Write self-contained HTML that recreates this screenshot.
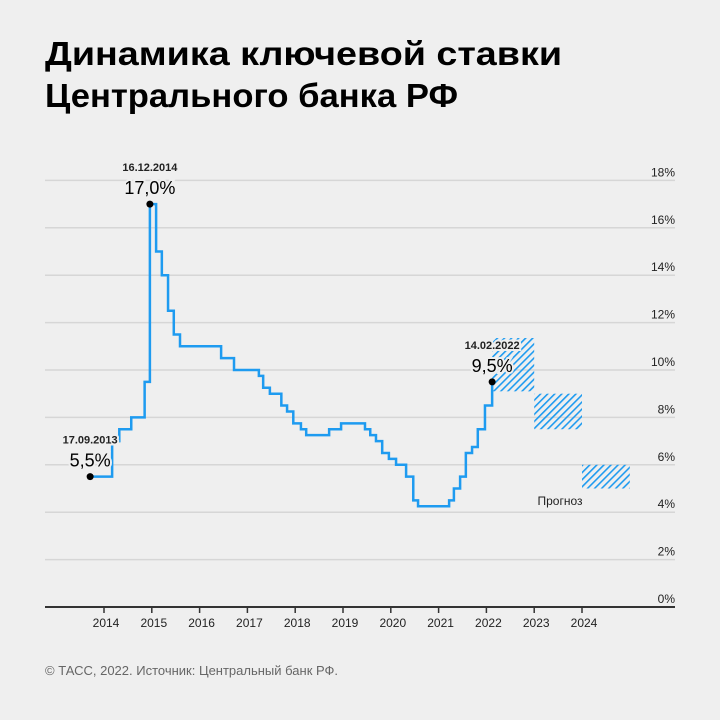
<!DOCTYPE html>
<html><head><meta charset="utf-8"><style>
body{margin:0;background:#efefef;}
svg{display:block;font-family:"Liberation Sans","DejaVu Sans",sans-serif;}
</style></head><body>
<svg width="720" height="720" viewBox="0 0 720 720">
<defs>
<pattern id="hatch" patternUnits="userSpaceOnUse" width="5" height="5" patternTransform="rotate(45)">
<rect x="0" y="0" width="1.6" height="5" fill="#1e9bf0"/>
</pattern>
</defs>
<rect width="720" height="720" fill="#efefef"/>
<text x="45" y="65" font-size="33" font-weight="bold" fill="#000" textLength="517" lengthAdjust="spacingAndGlyphs">Динамика ключевой ставки</text>
<text x="45" y="107" font-size="33" font-weight="bold" fill="#000" textLength="413" lengthAdjust="spacingAndGlyphs">Центрального банка РФ</text>
<g id="grid"></g>
<g id="forecast"></g>
<g id="series"></g>
<g id="xaxis"></g>
<g id="annot"></g>
<text x="45" y="675" font-size="13" fill="#666">© ТАСС, 2022. Источник: Центральный банк РФ.</text>
</svg>
<script>
const yTicks=[0,2,4,6,8,10,12,14,16,18];
const xYears=[2014,2015,2016,2017,2018,2019,2020,2021,2022,2023,2024];
const rateDates=[2013.71,2014.17,2014.32,2014.57,2014.85,2014.96,2015.09,2015.21,2015.34,2015.46,2015.59,2016.45,2016.72,2017.24,2017.33,2017.47,2017.71,2017.83,2017.96,2018.12,2018.23,2018.71,2018.96,2019.46,2019.57,2019.69,2019.82,2019.96,2020.11,2020.32,2020.47,2020.57,2021.22,2021.32,2021.45,2021.57,2021.70,2021.82,2021.97,2022.12];
const rateValues=[5.5,7.0,7.5,8.0,9.5,17.0,15.0,14.0,12.5,11.5,11.0,10.5,10.0,9.75,9.25,9.0,8.5,8.25,7.75,7.5,7.25,7.5,7.75,7.5,7.25,7.0,6.5,6.25,6.0,5.5,4.5,4.25,4.5,5.0,5.5,6.5,6.75,7.5,8.5,9.5];
const fcStart=[2022.12,2023,2024];
const fcEnd=[2023,2024,2025];
const fcLow=[9.1,7.5,5.0];
const fcHigh=[11.35,9.0,6.0];
const annDates=[2013.71,2014.96,2022.12];
const annValues=[5.5,17.0,9.5];
const annLabels=["17.09.2013","16.12.2014","14.02.2022"];
const annText=["5,5%","17,0%","9,5%"];

const NS="http://www.w3.org/2000/svg";
const X=t=>104+(t-2014)*47.8;
const Y=v=>607-v*23.7;
function mk(tag,attrs,parent,txt){const e=document.createElementNS(NS,tag);for(const k in attrs)e.setAttribute(k,attrs[k]);if(txt!==undefined)e.textContent=txt;parent.appendChild(e);return e;}
const grid=document.getElementById('grid');
yTicks.forEach(v=>{
 if(v>0){const l=mk('line',{x1:45,x2:675,y1:Y(v),y2:Y(v),stroke:'#d6d6d6','stroke-width':1.5},grid);
 
 }
 const t=mk('text',{x:675,y:Y(v)-4,'text-anchor':'end','font-size':12,fill:'#222'},grid,v+'%');
 
 
});
const fc=document.getElementById('forecast');
fcStart.forEach((s,i)=>{
 const r=mk('rect',{x:X(s),y:Y(fcHigh[i]),width:X(fcEnd[i])-X(s),height:Y(fcLow[i])-Y(fcHigh[i]),fill:'url(#hatch)'},fc);
 
 
});
const fl=mk('text',{x:560,y:505,'text-anchor':'middle','font-size':12,fill:'#222'},fc,'Прогноз');


const ser=document.getElementById('series');
let d='M'+X(rateDates[0])+','+Y(rateValues[0]);
for(let i=1;i<rateDates.length;i++){d+=' H'+X(rateDates[i])+' V'+Y(rateValues[i]);}
const p=mk('path',{d:d,fill:'none',stroke:'#1e9bf0','stroke-width':2.5,'stroke-linejoin':'miter'},ser);


const xa=document.getElementById('xaxis');
const ax=mk('line',{x1:45,x2:675,y1:607,y2:607,stroke:'#333','stroke-width':2},xa);


xYears.forEach(yr=>{
 const tk=mk('line',{x1:X(yr),x2:X(yr),y1:607,y2:613,stroke:'#333','stroke-width':1.5},xa);
 
 
 const t=mk('text',{x:X(yr)+2,y:627,'text-anchor':'middle','font-size':12,fill:'#222'},xa,String(yr));
 
 
});
const an=document.getElementById('annot');
annDates.forEach((t,i)=>{
 const cx=X(t),cy=Y(annValues[i]);
 const c=mk('circle',{cx:cx,cy:cy,r:3.5,fill:'#000'},an);
 
 
 const v=mk('text',{x:cx,y:cy-10,'text-anchor':'middle','font-size':18,fill:'#000',stroke:'#efefef','stroke-width':4,'paint-order':'stroke'},an,annText[i]);
 
 
 const l=mk('text',{x:cx,y:cy-33,'text-anchor':'middle','font-size':11,'font-weight':'bold',fill:'#222',stroke:'#efefef','stroke-width':4,'paint-order':'stroke'},an,annLabels[i]);
 
 
});
</script>
</body></html>
